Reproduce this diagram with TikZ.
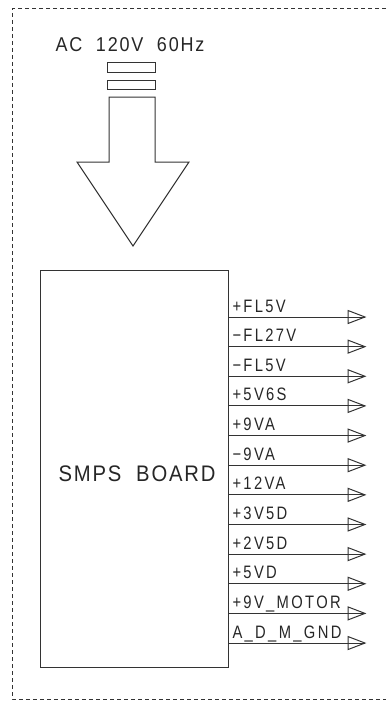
\documentclass[tikz,border=0pt]{standalone}
\usepackage{fontspec}
\setmainfont{Liberation Sans}
\usetikzlibrary{positioning}

\tikzset{
    siglabel/.style={font=\fontsize{18}{18}\selectfont\addfontfeature{LetterSpace=13,FakeStretch=0.82},
        anchor=base west, inner sep=0pt, text=black!85},
    bigtext/.style={inner sep=0pt, text=black!85},
}

\begin{document}
\begin{tikzpicture}[x=1pt,y=-1pt,line width=1pt,draw=black!80]
    \useasboundingbox (0,0) rectangle (386,701);

    % Dashed outline
    \draw[dash pattern=on 4pt off 3pt] (386,9) -- (12,9) -- (12,699) -- (386,699);

    % Mains input and plug
    \node[bigtext,font=\fontsize{20}{20}\selectfont\addfontfeature{LetterSpace=9,FakeStretch=0.9}] (mains) at (130,45) {AC\ \ 120V\ \ 60Hz};
    \draw (107,63) rectangle (155,72);
    \draw (107,80) rectangle (155,89);

    % Big arrow into the board
    \draw (109,97) -- (155,97) -- (155,162) -- (189,162) -- (133,246)
        -- (77,162) -- (109,162) -- cycle;

    % Board
    \node[draw, anchor=north west, minimum width=188pt, minimum height=397pt, inner sep=0pt] (board) at (40,270) {};
    \node[bigtext,font=\fontsize{22.5}{22.5}\selectfont\addfontfeature{LetterSpace=8,FakeStretch=0.9}] (boardname) at (137,474) {SMPS\ \ BOARD};

    % Output rails
    \foreach \lbl [count=\i] in {+FL5V,−FL27V,−FL5V,+5V6S,+9VA,−9VA,+12VA,+3V5D,+2V5D,+5VD,+9V\_MOTOR,A\_D\_M\_GND}{
        \pgfmathsetmacro\yy{317+(\i-1)*29.64}
        \coordinate (out\i) at (365,\yy);
        \draw (board.east |- out\i) -- (out\i);
        \draw ([xshift=-17pt,yshift=6.5pt]out\i) -- (out\i) -- ([xshift=-17pt,yshift=-6.5pt]out\i) -- cycle;
        \node[siglabel] (lbl\i) at ([xshift=3pt,yshift=5pt]board.east |- out\i) {\lbl};
    }
\end{tikzpicture}
\end{document}
